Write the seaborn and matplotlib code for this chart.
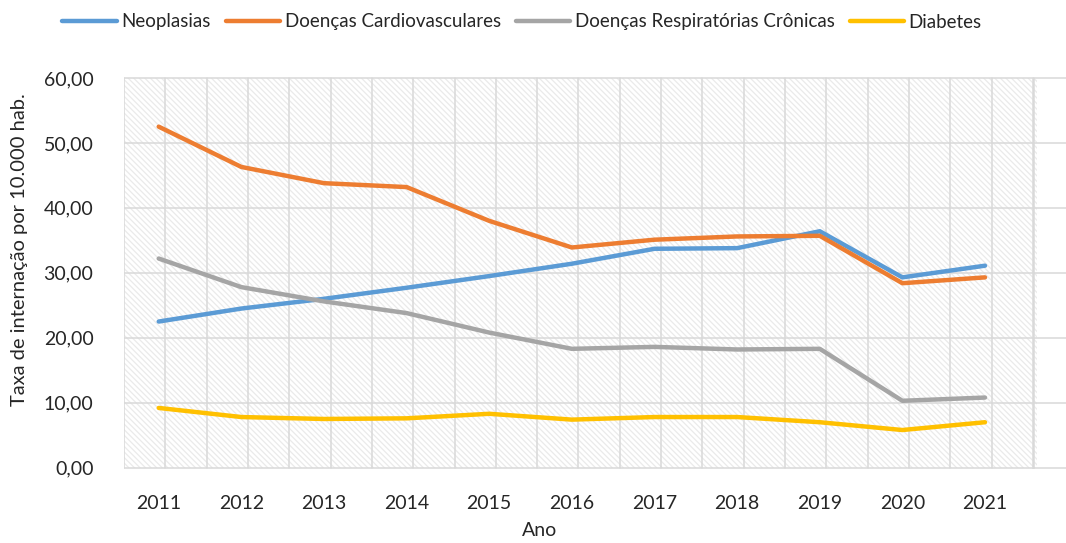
import matplotlib
matplotlib.use("Agg")
import matplotlib.pyplot as plt
import seaborn as sns
import pandas as pd
import numpy as np
from matplotlib.patches import Rectangle
from matplotlib.ticker import FuncFormatter

anos = ["2011", "2012", "2013", "2014", "2015", "2016", "2017", "2018", "2019", "2020", "2021"]
neoplasias = [22.5, 24.5, 26.0, 27.7, 29.5, 31.4, 33.7, 33.8, 36.4, 29.3, 31.1]
cardio = [52.5, 46.3, 43.8, 43.2, 38.0, 33.9, 35.1, 35.6, 35.7, 28.4, 29.3]
respir = [32.2, 27.8, 25.6, 23.8, 20.8, 18.3, 18.6, 18.2, 18.3, 10.3, 10.8]
diabetes = [9.2, 7.8, 7.5, 7.6, 8.3, 7.4, 7.8, 7.8, 7.0, 5.8, 7.0]
series_names = ["Neoplasias", "Doenças Cardiovasculares", "Doenças Respiratórias Crônicas", "Diabetes"]
colors = ["#5B9BD5", "#ED7D31", "#A5A5A5", "#FFC000"]
y_ticks = [0, 10, 20, 30, 40, 50, 60]

rows = []
for name, vals in zip(series_names, [neoplasias, cardio, respir, diabetes]):
    for i, (a, v) in enumerate(zip(anos, vals)):
        rows.append({"idx": i, "Ano": a, "Serie": name, "Valor": v})
df = pd.DataFrame(rows)

sns.set_theme(style="white")
plt.rcParams["font.family"] = ["Lato", "DejaVu Sans"]
plt.rcParams["hatch.linewidth"] = 0.9

fig = plt.figure(figsize=(10.66, 5.43), dpi=100)
ax = fig.add_axes([124/1066, 1 - 469/543, 1 - 124/1066, (469 - 76)/543])

x0, x1 = -0.42, 10.63
ax.set_xlim(x0, 10.98)
ax.set_ylim(-0.2, 60.3)

# hatched plot area
ax.add_patch(Rectangle((x0, 0), x1 - x0, 60, facecolor="white",
                       edgecolor="#EAEAEA", hatch="\\\\\\\\\\\\", linewidth=0, zorder=0))
# gridlines
for k in range(23):
    xv = x0 + 0.5 * k
    ax.plot([xv, xv], [0, 60], color="#D9D9D9", lw=1.8 if k == 22 else 1.1, zorder=1)
for yv in y_ticks:
    ax.axhline(yv, color="#D9D9D9", lw=1.1, zorder=1)

sns.lineplot(data=df, x="idx", y="Valor", hue="Serie", hue_order=series_names,
             palette=colors, linewidth=3.2, ax=ax, legend=True, zorder=3)

for s in ax.spines.values():
    s.set_visible(False)

ax.set_xticks(range(len(anos)))
ax.set_xticklabels(anos, fontsize=14)
ax.set_yticks(y_ticks)
ax.yaxis.set_major_formatter(FuncFormatter(lambda v, p: f"{v:.2f}".replace(".", ",")))
ax.tick_params(axis="y", labelsize=14, length=0, pad=22)
ax.tick_params(axis="x", length=0, pad=19)
ax.set_xlabel("")
ax.set_ylabel("")
fig.text(540/1066, 1 - 531/543, "Ano", fontsize=14, ha="center", va="center")
fig.text(20/1066, 1 - 250/543, "Taxa de internação por 10.000 hab.", fontsize=14.5,
         ha="center", va="center", rotation=90)

handles, labels = ax.get_legend_handles_labels()
ax.legend(handles, labels, loc="center", bbox_to_anchor=(522/1066, 1 - 22/543),
          bbox_transform=fig.transFigure, ncol=4, frameon=False, fontsize=13.5,
          handlelength=2.9, handletextpad=0.25, columnspacing=0.8)
for line in ax.get_legend().get_lines():
    line.set_linewidth(3.2)

fig.savefig("out.png", dpi=100)
